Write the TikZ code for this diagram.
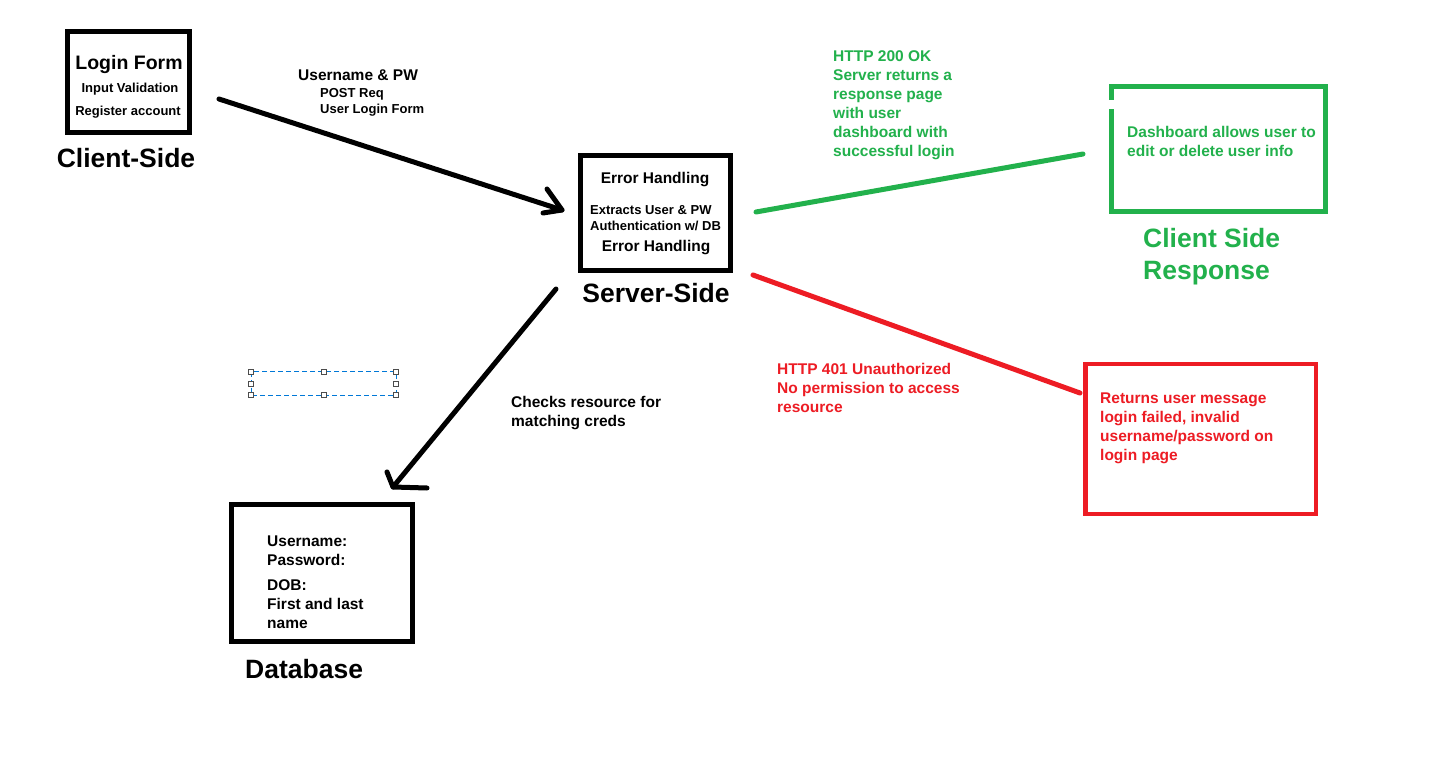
\documentclass[tikz,border=0pt]{standalone}
\usepackage{fontspec}
\setmainfont{Liberation Sans}
\usetikzlibrary{arrows.meta,positioning}
\definecolor{paintgreen}{HTML}{22B14C}
\definecolor{paintred}{HTML}{ED1C24}
\definecolor{selblue}{RGB}{0,120,215}
\tikzset{
  pen/.style={line width=5pt,line cap=round,line join=round},
  frame/.style={draw,line width=5pt,inner sep=0pt},
  head/.style={font=\fontsize{26.5}{32}\selectfont\bfseries},
  txt/.style={font=\fontsize{15.5}{19}\selectfont\bfseries},
  small/.style={font=\fontsize{13}{16}\selectfont\bfseries},
  lines/.style={align=left,anchor=north west,inner sep=0pt},
  handle/.style={draw=black!70,fill=white,line width=1pt,minimum size=5pt,inner sep=0pt},
}
\begin{document}
\begin{tikzpicture}[x=1pt,y=-1pt]
\fill[white] (0,0) rectangle (1432,775);
\useasboundingbox (0,0) rectangle (1432,775);
% client side
\node[frame,minimum width=122pt,minimum height=101pt] (login) at (128.5,82.5) {};
\node[font=\fontsize{19.5}{23}\selectfont\bfseries,anchor=base] (loginT) at (129,69.5) {Login Form};
\node[small,anchor=base] (valid) at (130,93) {Input Validation};
\node[small,anchor=base] (register) at (128,116) {Register account};
\node[head,anchor=base] (clientL) at (126,168) {Client-Side};
\node[txt,anchor=base west,inner sep=0pt] (creds) at (298,81) {Username \& PW};
\node[small,lines,text depth=0pt] (post) at (320,88.5) {POST Req\\User Login Form};
% server side
\node[frame,minimum width=150pt,minimum height=115pt] (server) at (655.5,213) {};
\node[txt,anchor=base] (err1) at (655,184) {Error Handling};
\node[small,lines] (extract) at (590,205.5) {Extracts User \& PW\\Authentication w/ DB};
\node[txt,anchor=base] (err2) at (656,252) {Error Handling};
\node[head,anchor=base] (serverL) at (656,303) {Server-Side};
% success
\node[txt,lines,text=paintgreen] (ok) at (833,50) {HTTP 200 OK\\Server returns a\\response page\\with user\\dashboard with\\successful login};
\node[frame,draw=paintgreen,minimum width=214pt,minimum height=125pt] (dash) at (1218.5,149) {};
\fill[white] (1108,100) rectangle (1115,109);
\node[txt,lines,text=paintgreen] (dashT) at (1127,125.7) {Dashboard allows user to\\edit or delete user info};
\node[head,lines,text=paintgreen] (dashL) at (1143,227.7) {Client Side\\Response};
% failure
\node[txt,lines,text=paintred] (deny) at (777,362.7) {HTTP 401 Unauthorized\\No permission to access\\resource};
\node[frame,draw=paintred,line width=4.5pt,minimum width=230.5pt,minimum height=149.5pt] (fail) at (1200.5,439) {};
\node[txt,lines,text=paintred] (failT) at (1100,392.7) {Returns user message\\login failed, invalid\\username/password on\\login page};
% database
\node[txt,lines] (check) at (511,395.7) {Checks resource for\\matching creds};
\node[frame,minimum width=181pt,minimum height=137pt] (db) at (322,573) {};
\node[txt,lines] (fields) at (267,535.7) {Username:\\Password:\\[6pt]DOB:\\First and last\\name};
\node[head,anchor=base west,inner sep=0pt] (dbL) at (245,678) {Database};
% empty selection frame
\draw[selblue,line width=1pt,dash pattern=on 5pt off 3pt] (251,372) rectangle (396,395);
\foreach \x/\y [count=\i] in {251/372,324/372,396/372,251/384,396/384,251/395,324/395,396/395}
  \node[handle] (h\i) at (\x,\y) {};
% connectors
\coordinate (formOut) at (219,99);
\coordinate (srvIn) at (562,210);
\coordinate (okOut) at (756,212);
\coordinate (okIn) at (1083,154);
\coordinate (failOut) at (753,275);
\coordinate (failIn) at (1080,393);
\coordinate (srvOut) at (556,289);
\coordinate (dbIn) at (393,487);
\draw[pen] (formOut) -- (srvIn);
\draw[pen] ([shift={(-15,-21)}]srvIn) -- (srvIn) -- ++(-19,3);
\draw[pen,paintgreen] (okOut) -- (okIn);
\draw[pen,paintred] (failOut) -- (failIn);
\draw[pen] (srvOut) -- (dbIn);
\draw[pen] ([shift={(-6,-15)}]dbIn) -- (dbIn) -- ++(34,1);
\end{tikzpicture}
\end{document}
